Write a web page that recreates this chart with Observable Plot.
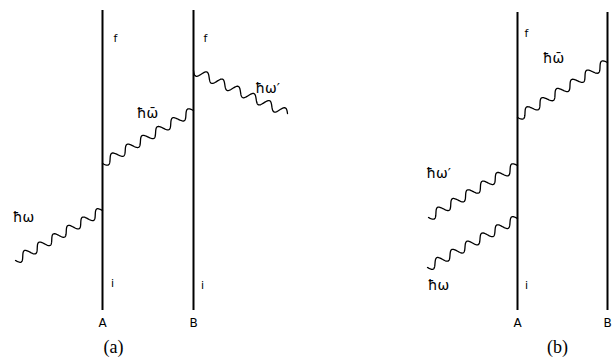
<!DOCTYPE html>
<html>
<head>
<meta charset="utf-8">
<script src="https://cdn.jsdelivr.net/npm/d3@7"></script>
<script src="https://cdn.jsdelivr.net/npm/@observablehq/plot@0.6"></script>
<style>
  html, body { margin: 0; padding: 0; background: #fff; }
  svg { display: block; }
</style>
</head>
<body>
<div id="chart"></div>
<script>
// Particle world-lines (vertical)
const lineNames = ["A", "B", "A", "B"];
const lineX = [102, 193, 517, 607];
const lineTop = [10, 10, 12, 12];
const lineBottom = [310, 310, 310, 310];

// State labels on the world-lines
const stateText = ["f", "f", "f", "i", "i", "i"];
const stateX = [115, 205, 526, 112, 202, 526];
const stateY = [38, 38, 33, 283, 285, 285];

// Photon lines (endpoints) and their labels
const photonLabels = ["ħω", "ħω̄", "ħω′", "ħω̄", "ħω′", "ħω"];
const photonX1 = [15, 102, 193, 517, 428, 427];
const photonY1 = [260, 163, 70, 117, 217, 267];
const photonX2 = [102, 193, 287, 607, 517, 517];
const photonY2 = [210, 110, 113, 62, 165, 218];
const labelX = [23, 147, 267, 553, 438, 438];
const labelY = [217, 113, 88, 58, 173, 285];

// Panel captions
const panelText = ["(a)", "(b)"];
const panelX = [113, 557];
const panelY = [347, 347];

// --- build tables ---
const lines = lineX.map((x, i) => ({name: lineNames[i], x, y1: lineTop[i], y2: lineBottom[i]}));
const states = stateText.map((t, i) => ({t, x: stateX[i], y: stateY[i]}));
const photonLabelData = photonLabels.map((t, i) => ({t, x: labelX[i], y: labelY[i]}));
const panels = panelText.map((t, i) => ({t, x: panelX[i], y: panelY[i]}));

// wavy rendering of each photon propagator (style only)
const wavelength = 17, amp = 4.2;
const wave = [];
photonLabels.forEach((lab, i) => {
  const x1 = photonX1[i], y1 = photonY1[i], x2 = photonX2[i], y2 = photonY2[i];
  const dx = x2 - x1, dy = y2 - y1, L = Math.hypot(dx, dy);
  const nx = -dy / L, ny = dx / L;
  const periods = Math.round(L / wavelength);
  const steps = Math.ceil(L * 2);
  for (let k = 0; k <= steps; k++) {
    const t = k / steps;
    const o = amp * Math.sin(2 * Math.PI * periods * t);
    wave.push({id: i, x: x1 + dx * t + nx * o, y: y1 + dy * t + ny * o});
  }
});

const chart = Plot.plot({
  width: 614,
  height: 364,
  margin: 0,
  x: {domain: [0, 614], range: [0, 614], axis: null},
  y: {domain: [0, 364], range: [0, 364], axis: null},
  style: {background: "#fff"},
  marks: [
    Plot.ruleX(lines, {x: "x", y1: "y1", y2: "y2", stroke: "#000", strokeWidth: 2}),
    Plot.line(wave, {x: "x", y: "y", z: "id", stroke: "#000", strokeWidth: 1.3, curve: "linear"}),
    Plot.text(lines, {x: "x", y: 323, text: "name", fontSize: 12, fontFamily: "DejaVu Sans", fill: "#000"}),
    Plot.text(states, {x: "x", y: "y", text: "t", fontSize: 11, fontFamily: "DejaVu Sans", fill: "#000"}),
    Plot.text(photonLabelData, {x: "x", y: "y", text: "t", fontSize: 14, fontFamily: "DejaVu Sans", fill: "#000"}),
    Plot.text(panels, {x: "x", y: "y", text: "t", fontSize: 18, fontFamily: "Liberation Serif", fill: "#000"})
  ]
});
document.getElementById("chart").appendChild(chart);
</script>
</body>
</html>
